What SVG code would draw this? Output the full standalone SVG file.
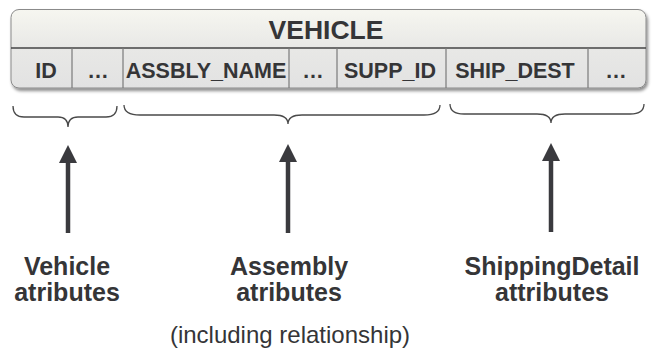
<svg xmlns="http://www.w3.org/2000/svg" width="652" height="354" viewBox="0 0 652 354">
<defs>
<style>
.hdr{font-family:"Liberation Sans",Arial,sans-serif;font-weight:bold;font-size:26.5px;fill:#353537;text-anchor:middle}
.col{font-family:"Liberation Sans",Arial,sans-serif;font-weight:bold;font-size:21.5px;fill:#353537;text-anchor:middle}
.lbl{font-family:"Liberation Sans",Arial,sans-serif;font-weight:bold;font-size:25px;fill:#353537;text-anchor:middle}
.cap{font-family:"Liberation Sans",Arial,sans-serif;font-size:24px;fill:#353537;text-anchor:middle}
.div{stroke:#7a7a7a;stroke-width:1.2}
.brace{fill:none;stroke:#4a4a4a;stroke-width:1.3}
.shaft{stroke:#3a3a3e;stroke-width:4.5}
</style>
<linearGradient id="tg" x1="0" y1="0" x2="0" y2="1">
<stop offset="0" stop-color="#f6f6f0"/>
<stop offset="0.5" stop-color="#e8e8e6"/>
<stop offset="1" stop-color="#e2e2e2"/>
</linearGradient>
<filter id="sh" x="-5%" y="-20%" width="110%" height="150%">
<feDropShadow dx="1.5" dy="2.5" stdDeviation="1.5" flood-color="#000" flood-opacity="0.45"/>
</filter>
<marker id="ah" viewBox="0 0 18 18" refX="0" refY="9" markerWidth="18" markerHeight="18" markerUnits="userSpaceOnUse" orient="auto">
<path d="M0,0 L18,9 L0,18 Z" fill="#3a3a3e"/>
</marker>
</defs>
<rect width="652" height="354" fill="#ffffff"/>

<g id="vehicle-table">
<rect x="11" y="9.5" width="635" height="78.5" rx="8" ry="8" fill="url(#tg)" stroke="#8a8a8a" stroke-width="1" filter="url(#sh)"/>
<line x1="11" y1="48" x2="646" y2="48" stroke="#444" stroke-width="1.6"/>
<text class="hdr" x="326" y="39">VEHICLE</text>
<line class="div" x1="72" y1="48" x2="72" y2="88"/>
<line class="div" x1="123" y1="48" x2="123" y2="88"/>
<line class="div" x1="289" y1="48" x2="289" y2="88"/>
<line class="div" x1="337" y1="48" x2="337" y2="88"/>
<line class="div" x1="446" y1="48" x2="446" y2="88"/>
<line class="div" x1="588" y1="48" x2="588" y2="88"/>
<text class="col" x="46" y="78">ID</text>
<text class="col" x="98" y="78">…</text>
<text class="col" x="206" y="78">ASSBLY_NAME</text>
<text class="col" x="313" y="78">…</text>
<text class="col" x="390" y="78">SUPP_ID</text>
<text class="col" x="515" y="78">SHIP_DEST</text>
<text class="col" x="616" y="78">…</text>
</g>

<g id="connectors">
<path class="brace" d="M13,106 Q13,117 24,117 L58,117 Q68,117 68,127 Q68,117 78,117 L106,117 Q117,117 117,106"/>
<path class="brace" d="M124,105 Q124,115 140,115 L274,115 Q288,115 288,124 Q288,115 302,115 L424,115 Q440,115 440,105"/>
<path class="brace" d="M450,104 Q450,114 464,114 L537,114 Q551,114 551,123 Q551,114 565,114 L630,114 Q644,114 644,104"/>
<line class="shaft" x1="68" y1="233" x2="68" y2="163" marker-end="url(#ah)"/>
<line class="shaft" x1="288" y1="233" x2="288" y2="162" marker-end="url(#ah)"/>
<line class="shaft" x1="551" y1="232" x2="551" y2="161" marker-end="url(#ah)"/>
</g>

<g id="vehicle-label">
<text class="lbl" x="67" y="275">Vehicle</text>
<text class="lbl" x="67" y="301">atributes</text>
</g>
<g id="assembly-label">
<text class="lbl" x="289" y="275">Assembly</text>
<text class="lbl" x="289" y="301">atributes</text>
<text class="cap" x="290" y="343">(including relationship)</text>
</g>
<g id="shipping-label">
<text class="lbl" x="552" y="275">ShippingDetail</text>
<text class="lbl" x="552" y="301">attributes</text>
</g>
</svg>
